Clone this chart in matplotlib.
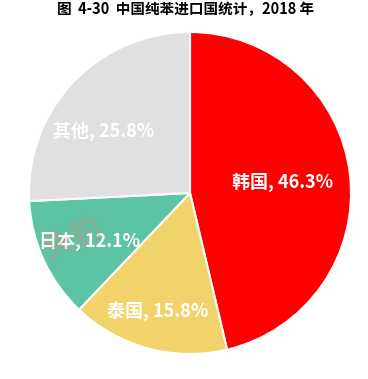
import matplotlib
matplotlib.use("Agg")
import matplotlib.pyplot as plt
import numpy as np

plt.rcParams['font.family'] = ['Noto Sans CJK SC', 'DejaVu Sans']

countries = ["韩国", "泰国", "日本", "其他"]
shares = [46.3, 15.8, 12.1, 25.8]
colors = ["#FF0000", "#F2D36B", "#5CC3A4", "#E0E0E0"]
label_dist = [0.58, 0.76, 0.69, 0.66]
label_shift = [0.0, 0.0, 1.0, 8.0]   # degrees of angular nudge for label placement
title = "图  4-30  中国纯苯进口国统计，2018 年"

fig = plt.figure(figsize=(3.68, 3.79), dpi=100)
W, H = 368, 379
cx, cy, r = 190, 193, 161
ax = fig.add_axes([(cx - r) / W, (H - cy - r) / H, 2 * r / W, 2 * r / H])

wedges, _ = ax.pie(shares, colors=colors, startangle=90, counterclock=False,
                   wedgeprops=dict(edgecolor="white", linewidth=1.5), radius=1.0)
ax.set_xlim(-1, 1)
ax.set_ylim(-1, 1)
ax.set_aspect('equal')
ax.axis('off')

for w, name, val, d, s in zip(wedges, countries, shares, label_dist, label_shift):
    ang = np.deg2rad((w.theta1 + w.theta2) / 2 + s)
    ax.text(d * np.cos(ang), d * np.sin(ang), f"{name}, {val:.1f}%",
            ha="center", va="center", color="white", fontsize=13, fontweight="bold")

fig.text(0.503, 0.976, title, ha="center", va="center", fontsize=10.5, fontweight="bold")

# faint watermark
fig.text(0.2, 0.37, "头豹", fontsize=22, fontweight="bold", color="#E88080", alpha=0.3,
         rotation=25, ha="center", va="center")

fig.savefig("out.png", dpi=100)
